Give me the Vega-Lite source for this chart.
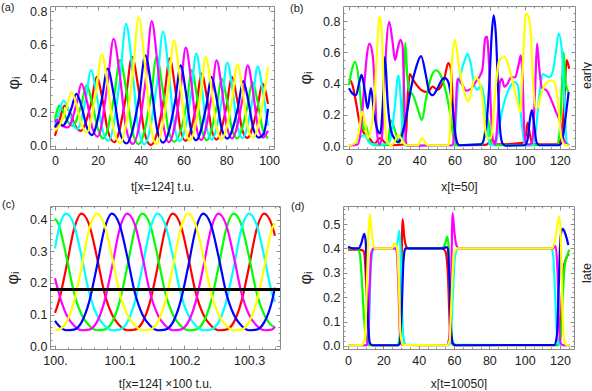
{
"$schema":"https://vega.github.io/schema/vega-lite/v6.json",
"padding":{"left":0,"top":1,"right":0,"bottom":0},
"background":"white",
"config":{
"font":"Liberation Sans",
"view":{"stroke":"#8c8c8c","strokeWidth":1},
"axis":{"domain":false,"grid":false,"tickColor":"#8c8c8c","tickWidth":1,"labelFont":"Liberation Sans","labelFontSize":12.5,"labelColor":"#222","labelPadding":7,"labelOverlap":false,"labelFlush":false,"titleFont":"Liberation Sans","titleFontWeight":"normal","titleColor":"#222","titleFontSize":12,"titleBaseline":"middle"},
"line":{"strokeWidth":2.2,"interpolate":"monotone"},
"title":{"anchor":"start","frame":"group","fontSize":11,"fontWeight":"normal","font":"Liberation Sans","color":"#222","baseline":"bottom"}
},
"datasets":{
"a":[
{"c":"red","x":0,"y":0.06},{"c":"red","x":2.2,"y":0.155},{"c":"red","x":4.5,"y":0.24},{"c":"red","x":7,"y":0.2},{"c":"red","x":9.5,"y":0.12},{"c":"red","x":12,"y":0.09},{"c":"red","x":16.9,"y":0.254},{"c":"red","x":19.5,"y":0.41},{"c":"red","x":22.1,"y":0.284},{"c":"red","x":24.7,"y":0.09},{"c":"red","x":27.7,"y":0.022},{"c":"red","x":33.15,"y":0.293},{"c":"red","x":36,"y":0.53},{"c":"red","x":38.9,"y":0.348},{"c":"red","x":41.7,"y":0.088},{"c":"red","x":44.8,"y":0.005},{"c":"red","x":51,"y":0.288},{"c":"red","x":53.6,"y":0.52},{"c":"red","x":56.1,"y":0.347},{"c":"red","x":58.6,"y":0.1},{"c":"red","x":61,"y":0.03},{"c":"red","x":66.1,"y":0.246},{"c":"red","x":68.5,"y":0.43},{"c":"red","x":70.9,"y":0.292},{"c":"red","x":73.2,"y":0.095},{"c":"red","x":75.5,"y":0.038},{"c":"red","x":80.2,"y":0.24},{"c":"red","x":82.6,"y":0.41},{"c":"red","x":85,"y":0.282},{"c":"red","x":87.4,"y":0.1},{"c":"red","x":89.8,"y":0.048},{"c":"red","x":94.5,"y":0.223},{"c":"red","x":96.9,"y":0.37},{"c":"red","x":99.5,"y":0.25},
{"c":"green","x":0,"y":0.15},{"c":"green","x":1,"y":0.21},{"c":"green","x":2,"y":0.24},{"c":"green","x":4.1,"y":0.2},{"c":"green","x":6.2,"y":0.14},{"c":"green","x":8.4,"y":0.12},{"c":"green","x":12.2,"y":0.24},{"c":"green","x":14.8,"y":0.36},{"c":"green","x":17.4,"y":0.255},{"c":"green","x":20,"y":0.105},{"c":"green","x":22.6,"y":0.045},{"c":"green","x":27.55,"y":0.287},{"c":"green","x":30.4,"y":0.51},{"c":"green","x":33.25,"y":0.337},{"c":"green","x":36.1,"y":0.09},{"c":"green","x":39,"y":0.01},{"c":"green","x":44.8,"y":0.29},{"c":"green","x":47.5,"y":0.53},{"c":"green","x":50.2,"y":0.35},{"c":"green","x":53,"y":0.097},{"c":"green","x":55.7,"y":0.025},{"c":"green","x":61.6,"y":0.257},{"c":"green","x":63.9,"y":0.45},{"c":"green","x":66.2,"y":0.303},{"c":"green","x":68.6,"y":0.097},{"c":"green","x":70.9,"y":0.035},{"c":"green","x":75.5,"y":0.234},{"c":"green","x":77.9,"y":0.4},{"c":"green","x":80.3,"y":0.274},{"c":"green","x":82.7,"y":0.098},{"c":"green","x":85,"y":0.045},{"c":"green","x":89.8,"y":0.228},{"c":"green","x":92.2,"y":0.38},{"c":"green","x":94.6,"y":0.265},{"c":"green","x":97,"y":0.1},{"c":"green","x":99.5,"y":0.045},
{"c":"cyan","x":0,"y":0.12},{"c":"cyan","x":2,"y":0.2},{"c":"cyan","x":4,"y":0.27},{"c":"cyan","x":6.2,"y":0.22},{"c":"cyan","x":8.4,"y":0.135},{"c":"cyan","x":10.4,"y":0.1},{"c":"cyan","x":14.4,"y":0.28},{"c":"cyan","x":16.8,"y":0.45},{"c":"cyan","x":19.4,"y":0.31},{"c":"cyan","x":22,"y":0.106},{"c":"cyan","x":25,"y":0.03},{"c":"cyan","x":30.4,"y":0.4},{"c":"cyan","x":33.2,"y":0.726},{"c":"cyan","x":36,"y":0.477},{"c":"cyan","x":38.8,"y":0.117},{"c":"cyan","x":41.8,"y":0.01},{"c":"cyan","x":47.7,"y":0.373},{"c":"cyan","x":50.5,"y":0.68},{"c":"cyan","x":53.1,"y":0.449},{"c":"cyan","x":55.7,"y":0.123},{"c":"cyan","x":58.3,"y":0.028},{"c":"cyan","x":63.6,"y":0.31},{"c":"cyan","x":66,"y":0.548},{"c":"cyan","x":68.4,"y":0.368},{"c":"cyan","x":70.8,"y":0.112},{"c":"cyan","x":73.2,"y":0.038},{"c":"cyan","x":78.1,"y":0.286},{"c":"cyan","x":80.5,"y":0.495},{"c":"cyan","x":82.9,"y":0.337},{"c":"cyan","x":85.3,"y":0.113},{"c":"cyan","x":87.6,"y":0.047},{"c":"cyan","x":92.3,"y":0.278},{"c":"cyan","x":94.7,"y":0.473},{"c":"cyan","x":97.1,"y":0.325},{"c":"cyan","x":99.5,"y":0.12},
{"c":"magenta","x":0,"y":0.14},{"c":"magenta","x":1,"y":0.155},{"c":"magenta","x":3.5,"y":0.12},{"c":"magenta","x":6,"y":0.11},{"c":"magenta","x":10.1,"y":0.25},{"c":"magenta","x":12.4,"y":0.37},{"c":"magenta","x":14.9,"y":0.268},{"c":"magenta","x":17.4,"y":0.11},{"c":"magenta","x":20,"y":0.055},{"c":"magenta","x":24.5,"y":0.36},{"c":"magenta","x":27.4,"y":0.637},{"c":"magenta","x":30.3,"y":0.42},{"c":"magenta","x":33.2,"y":0.108},{"c":"magenta","x":36.3,"y":0.012},{"c":"magenta","x":42.5,"y":0.405},{"c":"magenta","x":45.2,"y":0.742},{"c":"magenta","x":47.9,"y":0.487},{"c":"magenta","x":50.6,"y":0.128},{"c":"magenta","x":53.2,"y":0.022},{"c":"magenta","x":58.6,"y":0.328},{"c":"magenta","x":61.1,"y":0.584},{"c":"magenta","x":63.6,"y":0.39},{"c":"magenta","x":66,"y":0.116},{"c":"magenta","x":68.3,"y":0.035},{"c":"magenta","x":73.1,"y":0.292},{"c":"magenta","x":75.5,"y":0.508},{"c":"magenta","x":77.9,"y":0.344},{"c":"magenta","x":80.3,"y":0.114},{"c":"magenta","x":82.7,"y":0.045},{"c":"magenta","x":87.6,"y":0.28},{"c":"magenta","x":90,"y":0.479},{"c":"magenta","x":92.4,"y":0.33},{"c":"magenta","x":94.8,"y":0.114},{"c":"magenta","x":97.2,"y":0.05},{"c":"magenta","x":99.5,"y":0.09},
{"c":"blue","x":0,"y":0.11},{"c":"blue","x":1.5,"y":0.14},{"c":"blue","x":3.5,"y":0.12},{"c":"blue","x":7.7,"y":0.223},{"c":"blue","x":10,"y":0.31},{"c":"blue","x":12.4,"y":0.237},{"c":"blue","x":14.8,"y":0.115},{"c":"blue","x":17.3,"y":0.065},{"c":"blue","x":21.8,"y":0.27},{"c":"blue","x":24.6,"y":0.46},{"c":"blue","x":27.4,"y":0.309},{"c":"blue","x":30.2,"y":0.086},{"c":"blue","x":33.4,"y":0.015},{"c":"blue","x":39.4,"y":0.295},{"c":"blue","x":42.2,"y":0.538},{"c":"blue","x":45,"y":0.353},{"c":"blue","x":47.8,"y":0.092},{"c":"blue","x":50.5,"y":0.02},{"c":"blue","x":56.2,"y":0.27},{"c":"blue","x":58.7,"y":0.479},{"c":"blue","x":61.1,"y":0.322},{"c":"blue","x":63.5,"y":0.1},{"c":"blue","x":65.9,"y":0.034},{"c":"blue","x":70.7,"y":0.238},{"c":"blue","x":73.1,"y":0.41},{"c":"blue","x":75.5,"y":0.28},{"c":"blue","x":78,"y":0.097},{"c":"blue","x":80.5,"y":0.044},{"c":"blue","x":85.5,"y":0.23},{"c":"blue","x":87.9,"y":0.386},{"c":"blue","x":90.3,"y":0.268},{"c":"blue","x":92.7,"y":0.1},{"c":"blue","x":95.1,"y":0.05},{"c":"blue","x":97.5,"y":0.073},{"c":"blue","x":99.5,"y":0.22},
{"c":"yellow","x":0,"y":0.09},{"c":"yellow","x":2.5,"y":0.13},{"c":"yellow","x":5.5,"y":0.23},{"c":"yellow","x":7.7,"y":0.32},{"c":"yellow","x":10,"y":0.247},{"c":"yellow","x":12.3,"y":0.133},{"c":"yellow","x":14.8,"y":0.08},{"c":"yellow","x":19.2,"y":0.322},{"c":"yellow","x":21.9,"y":0.545},{"c":"yellow","x":24.6,"y":0.368},{"c":"yellow","x":27.3,"y":0.106},{"c":"yellow","x":30.5,"y":0.018},{"c":"yellow","x":36.3,"y":0.42},{"c":"yellow","x":39.1,"y":0.766},{"c":"yellow","x":41.9,"y":0.5},{"c":"yellow","x":44.7,"y":0.123},{"c":"yellow","x":47.3,"y":0.012},{"c":"yellow","x":53,"y":0.348},{"c":"yellow","x":55.6,"y":0.627},{"c":"yellow","x":58.2,"y":0.418},{"c":"yellow","x":60.7,"y":0.12},{"c":"yellow","x":63,"y":0.032},{"c":"yellow","x":68,"y":0.3},{"c":"yellow","x":70.4,"y":0.528},{"c":"yellow","x":72.9,"y":0.356},{"c":"yellow","x":75.4,"y":0.114},{"c":"yellow","x":77.8,"y":0.04},{"c":"yellow","x":82.8,"y":0.283},{"c":"yellow","x":85.2,"y":0.485},{"c":"yellow","x":87.6,"y":0.332},{"c":"yellow","x":90,"y":0.114},{"c":"yellow","x":92.4,"y":0.05},{"c":"yellow","x":97.3,"y":0.277},{"c":"yellow","x":99.5,"y":0.468}
],
"b":[
{"c":"red","x":0,"y":0.43},{"c":"red","x":2,"y":0.39},{"c":"red","x":4,"y":0.28},{"c":"red","x":6,"y":0.15},{"c":"red","x":8.7,"y":0.08},{"c":"red","x":11.6,"y":0.05},{"c":"red","x":14.4,"y":0.015},{"c":"red","x":17.8,"y":0.05},{"c":"red","x":21,"y":0.015},{"c":"red","x":24,"y":0.005},{"c":"red","x":31.5,"y":0.01},{"c":"red","x":32.6,"y":0.1},{"c":"red","x":33.4,"y":0.3},{"c":"red","x":34.5,"y":0.46},{"c":"red","x":37.2,"y":0.41},{"c":"red","x":41,"y":0.36},{"c":"red","x":44.7,"y":0.345},{"c":"red","x":47.6,"y":0.38},{"c":"red","x":50.4,"y":0.36},{"c":"red","x":54.2,"y":0.43},{"c":"red","x":56.5,"y":0.53},{"c":"red","x":58,"y":0.49},{"c":"red","x":59.3,"y":0.22},{"c":"red","x":60.5,"y":0.03},{"c":"red","x":62,"y":0.005},{"c":"red","x":78,"y":0.008},{"c":"red","x":81.7,"y":0.04},{"c":"red","x":84,"y":0.01},{"c":"red","x":98.8,"y":0.02},{"c":"red","x":100.7,"y":0.07},{"c":"red","x":101.6,"y":0.15},{"c":"red","x":103,"y":0.07},{"c":"red","x":104.5,"y":0.01},{"c":"red","x":117.7,"y":0.01},{"c":"red","x":120.6,"y":0.04},{"c":"red","x":122.5,"y":0.28},{"c":"red","x":123.8,"y":0.55},{"c":"red","x":125.3,"y":0.495},
{"c":"green","x":0,"y":0.39},{"c":"green","x":1.5,"y":0.48},{"c":"green","x":3.4,"y":0.538},{"c":"green","x":5.9,"y":0.39},{"c":"green","x":7.2,"y":0.22},{"c":"green","x":8.3,"y":0.1},{"c":"green","x":9.7,"y":0.13},{"c":"green","x":11.6,"y":0.025},{"c":"green","x":14.4,"y":0.005},{"c":"green","x":22,"y":0.005},{"c":"green","x":23.9,"y":0.165},{"c":"green","x":26.7,"y":0.08},{"c":"green","x":28.6,"y":0.02},{"c":"green","x":29.6,"y":0.06},{"c":"green","x":30.5,"y":0.15},{"c":"green","x":31.2,"y":0.4},{"c":"green","x":32,"y":0.66},{"c":"green","x":33.2,"y":0.45},{"c":"green","x":34.3,"y":0.35},{"c":"green","x":36.2,"y":0.33},{"c":"green","x":39.1,"y":0.24},{"c":"green","x":41.5,"y":0.165},{"c":"green","x":43.8,"y":0.3},{"c":"green","x":46.7,"y":0.44},{"c":"green","x":49.5,"y":0.485},{"c":"green","x":52.3,"y":0.45},{"c":"green","x":55.2,"y":0.345},{"c":"green","x":58,"y":0.175},{"c":"green","x":59.9,"y":0.025},{"c":"green","x":61,"y":0.005},{"c":"green","x":76,"y":0.01},{"c":"green","x":78.9,"y":0.18},{"c":"green","x":80.8,"y":0.03},{"c":"green","x":82,"y":0.005},{"c":"green","x":118.5,"y":0.008},{"c":"green","x":120,"y":0.11},{"c":"green","x":121.2,"y":0.39},{"c":"green","x":122.1,"y":0.6},{"c":"green","x":123.4,"y":0.39},{"c":"green","x":125,"y":0.345},
{"c":"cyan","x":0,"y":0.005},{"c":"cyan","x":2.9,"y":0.01},{"c":"cyan","x":5.9,"y":0.05},{"c":"cyan","x":8.7,"y":0.07},{"c":"cyan","x":11.6,"y":0.02},{"c":"cyan","x":14.4,"y":0.01},{"c":"cyan","x":20,"y":0.01},{"c":"cyan","x":22.9,"y":0.02},{"c":"cyan","x":25.8,"y":0.22},{"c":"cyan","x":28.1,"y":0.45},{"c":"cyan","x":29.6,"y":0.28},{"c":"cyan","x":30.5,"y":0.09},{"c":"cyan","x":31.5,"y":0.01},{"c":"cyan","x":33,"y":0.002},{"c":"cyan","x":59.3,"y":0.005},{"c":"cyan","x":60.2,"y":0.05},{"c":"cyan","x":61,"y":0.2},{"c":"cyan","x":62,"y":0.38},{"c":"cyan","x":63.7,"y":0.47},{"c":"cyan","x":66.2,"y":0.56},{"c":"cyan","x":67.5,"y":0.59},{"c":"cyan","x":69.4,"y":0.52},{"c":"cyan","x":71.3,"y":0.39},{"c":"cyan","x":73.2,"y":0.36},{"c":"cyan","x":75.1,"y":0.39},{"c":"cyan","x":77,"y":0.3},{"c":"cyan","x":78.9,"y":0.11},{"c":"cyan","x":80,"y":0.01},{"c":"cyan","x":83,"y":0.005},{"c":"cyan","x":84.6,"y":0.07},{"c":"cyan","x":87.4,"y":0.24},{"c":"cyan","x":91.2,"y":0.37},{"c":"cyan","x":94,"y":0.41},{"c":"cyan","x":96,"y":0.39},{"c":"cyan","x":97.8,"y":0.2},{"c":"cyan","x":99.7,"y":0.025},{"c":"cyan","x":101,"y":0.003},{"c":"cyan","x":104.5,"y":0.005},{"c":"cyan","x":106.4,"y":0.11},{"c":"cyan","x":108.3,"y":0.325},{"c":"cyan","x":110.2,"y":0.46},{"c":"cyan","x":112.1,"y":0.45},{"c":"cyan","x":114,"y":0.44},{"c":"cyan","x":115.8,"y":0.47},{"c":"cyan","x":117.7,"y":0.6},{"c":"cyan","x":119.3,"y":0.72},{"c":"cyan","x":121.2,"y":0.6},{"c":"cyan","x":122.5,"y":0.325},{"c":"cyan","x":123.8,"y":0.025},{"c":"cyan","x":125.3,"y":0.005},
{"c":"magenta","x":0,"y":0.002},{"c":"magenta","x":5,"y":0.01},{"c":"magenta","x":6.8,"y":0.11},{"c":"magenta","x":8.7,"y":0.39},{"c":"magenta","x":10.2,"y":0.58},{"c":"magenta","x":11.6,"y":0.655},{"c":"magenta","x":13.5,"y":0.58},{"c":"magenta","x":14.8,"y":0.345},{"c":"magenta","x":15.9,"y":0.09},{"c":"magenta","x":17.3,"y":0.01},{"c":"magenta","x":18.8,"y":0.06},{"c":"magenta","x":20.5,"y":0.495},{"c":"magenta","x":22.9,"y":0.794},{"c":"magenta","x":24.8,"y":0.666},{"c":"magenta","x":26.2,"y":0.55},{"c":"magenta","x":27.7,"y":0.62},{"c":"magenta","x":29.2,"y":0.68},{"c":"magenta","x":30.5,"y":0.64},{"c":"magenta","x":31.5,"y":0.28},{"c":"magenta","x":32.4,"y":0.02},{"c":"magenta","x":33.4,"y":0.002},{"c":"magenta","x":59,"y":0.005},{"c":"magenta","x":60.2,"y":0.12},{"c":"magenta","x":61.8,"y":0.43},{"c":"magenta","x":64.6,"y":0.39},{"c":"magenta","x":66.6,"y":0.355},{"c":"magenta","x":69.4,"y":0.366},{"c":"magenta","x":71.3,"y":0.4},{"c":"magenta","x":74.1,"y":0.44},{"c":"magenta","x":76,"y":0.495},{"c":"magenta","x":77.5,"y":0.69},{"c":"magenta","x":78.5,"y":0.7},{"c":"magenta","x":79.8,"y":0.495},{"c":"magenta","x":80.8,"y":0.22},{"c":"magenta","x":81.7,"y":0.05},{"c":"magenta","x":83.2,"y":0.01},{"c":"magenta","x":84.6,"y":0.175},{"c":"magenta","x":85.9,"y":0.41},{"c":"magenta","x":87,"y":0.43},{"c":"magenta","x":88.4,"y":0.38},{"c":"magenta","x":90.3,"y":0.4},{"c":"magenta","x":92.2,"y":0.44},{"c":"magenta","x":94.6,"y":0.44},{"c":"magenta","x":96.5,"y":0.52},{"c":"magenta","x":97.8,"y":0.58},{"c":"magenta","x":98.8,"y":0.43},{"c":"magenta","x":99.7,"y":0.11},{"c":"magenta","x":100.7,"y":0.015},{"c":"magenta","x":103,"y":0.01},{"c":"magenta","x":104.5,"y":0.05},{"c":"magenta","x":106,"y":0.39},{"c":"magenta","x":107,"y":0.655},{"c":"magenta","x":108.3,"y":0.495},{"c":"magenta","x":109.8,"y":0.37},{"c":"magenta","x":112.1,"y":0.36},{"c":"magenta","x":114.9,"y":0.3},{"c":"magenta","x":117.7,"y":0.22},{"c":"magenta","x":120,"y":0.154},{"c":"magenta","x":121.5,"y":0.07},{"c":"magenta","x":123.4,"y":0.015},{"c":"magenta","x":125.3,"y":0.005},
{"c":"blue","x":0,"y":0.37},{"c":"blue","x":2.1,"y":0.335},{"c":"blue","x":4,"y":0.325},{"c":"blue","x":5.9,"y":0.41},{"c":"blue","x":7.2,"y":0.455},{"c":"blue","x":9.1,"y":0.345},{"c":"blue","x":10.6,"y":0.24},{"c":"blue","x":12.5,"y":0.37},{"c":"blue","x":14.4,"y":0.2},{"c":"blue","x":16.3,"y":0.1},{"c":"blue","x":17.8,"y":0.08},{"c":"blue","x":19.3,"y":0.28},{"c":"blue","x":20.5,"y":0.57},{"c":"blue","x":22,"y":0.28},{"c":"blue","x":23.9,"y":0.1},{"c":"blue","x":25.8,"y":0.05},{"c":"blue","x":27.7,"y":0.025},{"c":"blue","x":29.6,"y":0.05},{"c":"blue","x":31.5,"y":0.13},{"c":"blue","x":33.4,"y":0.24},{"c":"blue","x":35.3,"y":0.37},{"c":"blue","x":38.1,"y":0.5},{"c":"blue","x":41,"y":0.575},{"c":"blue","x":43.8,"y":0.45},{"c":"blue","x":45.7,"y":0.345},{"c":"blue","x":47.6,"y":0.325},{"c":"blue","x":50.4,"y":0.37},{"c":"blue","x":53.3,"y":0.43},{"c":"blue","x":54.6,"y":0.435},{"c":"blue","x":56.5,"y":0.41},{"c":"blue","x":59,"y":0.24},{"c":"blue","x":60.9,"y":0.05},{"c":"blue","x":62.8,"y":0.005},{"c":"blue","x":75.1,"y":0.01},{"c":"blue","x":77.9,"y":0.11},{"c":"blue","x":79.8,"y":0.39},{"c":"blue","x":81.2,"y":0.71},{"c":"blue","x":82.3,"y":0.836},{"c":"blue","x":83.6,"y":0.71},{"c":"blue","x":85,"y":0.325},{"c":"blue","x":86.1,"y":0.09},{"c":"blue","x":87.4,"y":0.015},{"c":"blue","x":89,"y":0.003},{"c":"blue","x":100,"y":0.005},{"c":"blue","x":101.6,"y":0.04},{"c":"blue","x":103,"y":0.175},{"c":"blue","x":104.1,"y":0.23},{"c":"blue","x":105.4,"y":0.13},{"c":"blue","x":106.7,"y":0.025},{"c":"blue","x":108.3,"y":0.005},{"c":"blue","x":119.5,"y":0.005},{"c":"blue","x":120.6,"y":0.015},{"c":"blue","x":121.9,"y":0.07},{"c":"blue","x":123.4,"y":0.2},{"c":"blue","x":125,"y":0.345},
{"c":"yellow","x":0,"y":0.002},{"c":"yellow","x":4,"y":0.025},{"c":"yellow","x":5.9,"y":0.11},{"c":"yellow","x":7.4,"y":0.22},{"c":"yellow","x":9.1,"y":0.154},{"c":"yellow","x":10.6,"y":0.05},{"c":"yellow","x":12.5,"y":0.11},{"c":"yellow","x":14.4,"y":0.28},{"c":"yellow","x":15.9,"y":0.6},{"c":"yellow","x":17.3,"y":0.826},{"c":"yellow","x":18.6,"y":0.75},{"c":"yellow","x":19.7,"y":0.39},{"c":"yellow","x":20.7,"y":0.11},{"c":"yellow","x":22,"y":0.025},{"c":"yellow","x":23.9,"y":0.005},{"c":"yellow","x":25.8,"y":0.025},{"c":"yellow","x":28.1,"y":0.07},{"c":"yellow","x":29.6,"y":0.05},{"c":"yellow","x":31.5,"y":0.015},{"c":"yellow","x":33.4,"y":0.005},{"c":"yellow","x":39.1,"y":0.005},{"c":"yellow","x":41.5,"y":0.05},{"c":"yellow","x":43.8,"y":0.015},{"c":"yellow","x":45,"y":0.005},{"c":"yellow","x":56.5,"y":0.005},{"c":"yellow","x":57.3,"y":0.07},{"c":"yellow","x":58.4,"y":0.5},{"c":"yellow","x":60.2,"y":0.68},{"c":"yellow","x":62.8,"y":0.495},{"c":"yellow","x":64.6,"y":0.39},{"c":"yellow","x":66.6,"y":0.31},{"c":"yellow","x":68.1,"y":0.286},{"c":"yellow","x":70.3,"y":0.39},{"c":"yellow","x":71.9,"y":0.44},{"c":"yellow","x":74.1,"y":0.41},{"c":"yellow","x":76,"y":0.3},{"c":"yellow","x":77.5,"y":0.11},{"c":"yellow","x":78.9,"y":0.05},{"c":"yellow","x":80.8,"y":0.05},{"c":"yellow","x":82.1,"y":0.175},{"c":"yellow","x":83.6,"y":0.39},{"c":"yellow","x":85.5,"y":0.55},{"c":"yellow","x":88.4,"y":0.57},{"c":"yellow","x":91.2,"y":0.495},{"c":"yellow","x":94,"y":0.37},{"c":"yellow","x":95.9,"y":0.28},{"c":"yellow","x":97.4,"y":0.22},{"c":"yellow","x":98.8,"y":0.5},{"c":"yellow","x":100.7,"y":0.847},{"c":"yellow","x":102.2,"y":0.826},{"c":"yellow","x":103.5,"y":0.71},{"c":"yellow","x":104.8,"y":0.4},{"c":"yellow","x":106.3,"y":0.24},{"c":"yellow","x":107.5,"y":0.25},{"c":"yellow","x":109.2,"y":0.325},{"c":"yellow","x":112.1,"y":0.4},{"c":"yellow","x":114.9,"y":0.42},{"c":"yellow","x":116.8,"y":0.41},{"c":"yellow","x":118.7,"y":0.3},{"c":"yellow","x":120.6,"y":0.07},{"c":"yellow","x":122.5,"y":0.01},{"c":"yellow","x":125.3,"y":0.003}
],
"c":[
{"c":"red","x":100,"y":0.105},{"c":"red","x":100.0057,"y":0.14},{"c":"red","x":100.0175,"y":0.25},{"c":"red","x":100.0293,"y":0.37},{"c":"red","x":100.041,"y":0.42},{"c":"red","x":100.0528,"y":0.385},{"c":"red","x":100.0645,"y":0.285},{"c":"red","x":100.0763,"y":0.17},{"c":"red","x":100.0881,"y":0.1},{"c":"red","x":100.0998,"y":0.065},{"c":"red","x":100.1116,"y":0.05},{"c":"red","x":100.1234,"y":0.052},{"c":"red","x":100.1351,"y":0.075},{"c":"red","x":100.1469,"y":0.14},{"c":"red","x":100.1586,"y":0.25},{"c":"red","x":100.1704,"y":0.37},{"c":"red","x":100.1822,"y":0.42},{"c":"red","x":100.1939,"y":0.385},{"c":"red","x":100.2057,"y":0.285},{"c":"red","x":100.2175,"y":0.17},{"c":"red","x":100.2292,"y":0.1},{"c":"red","x":100.241,"y":0.065},{"c":"red","x":100.2527,"y":0.05},{"c":"red","x":100.2645,"y":0.052},{"c":"red","x":100.2763,"y":0.075},{"c":"red","x":100.288,"y":0.14},{"c":"red","x":100.2998,"y":0.25},{"c":"red","x":100.3116,"y":0.37},{"c":"red","x":100.3233,"y":0.42},{"c":"red","x":100.3351,"y":0.385},{"c":"red","x":100.34,"y":0.35},
{"c":"green","x":100,"y":0.405},{"c":"green","x":100.0057,"y":0.385},{"c":"green","x":100.0175,"y":0.285},{"c":"green","x":100.0293,"y":0.17},{"c":"green","x":100.041,"y":0.1},{"c":"green","x":100.0528,"y":0.065},{"c":"green","x":100.0645,"y":0.05},{"c":"green","x":100.0763,"y":0.052},{"c":"green","x":100.0881,"y":0.075},{"c":"green","x":100.0998,"y":0.14},{"c":"green","x":100.1116,"y":0.25},{"c":"green","x":100.1234,"y":0.37},{"c":"green","x":100.1351,"y":0.42},{"c":"green","x":100.1469,"y":0.385},{"c":"green","x":100.1586,"y":0.285},{"c":"green","x":100.1704,"y":0.17},{"c":"green","x":100.1822,"y":0.1},{"c":"green","x":100.1939,"y":0.065},{"c":"green","x":100.2057,"y":0.05},{"c":"green","x":100.2175,"y":0.052},{"c":"green","x":100.2292,"y":0.075},{"c":"green","x":100.241,"y":0.14},{"c":"green","x":100.2527,"y":0.25},{"c":"green","x":100.2645,"y":0.37},{"c":"green","x":100.2763,"y":0.42},{"c":"green","x":100.288,"y":0.385},{"c":"green","x":100.2998,"y":0.285},{"c":"green","x":100.3116,"y":0.17},{"c":"green","x":100.3233,"y":0.1},{"c":"green","x":100.3351,"y":0.065},{"c":"green","x":100.34,"y":0.059},
{"c":"cyan","x":100,"y":0.31},{"c":"cyan","x":100.0057,"y":0.37},{"c":"cyan","x":100.0175,"y":0.42},{"c":"cyan","x":100.0293,"y":0.385},{"c":"cyan","x":100.041,"y":0.285},{"c":"cyan","x":100.0528,"y":0.17},{"c":"cyan","x":100.0645,"y":0.1},{"c":"cyan","x":100.0763,"y":0.065},{"c":"cyan","x":100.0881,"y":0.05},{"c":"cyan","x":100.0998,"y":0.052},{"c":"cyan","x":100.1116,"y":0.075},{"c":"cyan","x":100.1234,"y":0.14},{"c":"cyan","x":100.1351,"y":0.25},{"c":"cyan","x":100.1469,"y":0.37},{"c":"cyan","x":100.1586,"y":0.42},{"c":"cyan","x":100.1704,"y":0.385},{"c":"cyan","x":100.1822,"y":0.285},{"c":"cyan","x":100.1939,"y":0.17},{"c":"cyan","x":100.2057,"y":0.1},{"c":"cyan","x":100.2175,"y":0.065},{"c":"cyan","x":100.2292,"y":0.05},{"c":"cyan","x":100.241,"y":0.052},{"c":"cyan","x":100.2527,"y":0.075},{"c":"cyan","x":100.2645,"y":0.14},{"c":"cyan","x":100.2763,"y":0.25},{"c":"cyan","x":100.288,"y":0.37},{"c":"cyan","x":100.2998,"y":0.42},{"c":"cyan","x":100.3116,"y":0.385},{"c":"cyan","x":100.3233,"y":0.285},{"c":"cyan","x":100.3351,"y":0.17},{"c":"cyan","x":100.34,"y":0.14},
{"c":"magenta","x":100,"y":0.215},{"c":"magenta","x":100.0057,"y":0.17},{"c":"magenta","x":100.0175,"y":0.1},{"c":"magenta","x":100.0293,"y":0.065},{"c":"magenta","x":100.041,"y":0.05},{"c":"magenta","x":100.0528,"y":0.052},{"c":"magenta","x":100.0645,"y":0.075},{"c":"magenta","x":100.0763,"y":0.14},{"c":"magenta","x":100.0881,"y":0.25},{"c":"magenta","x":100.0998,"y":0.37},{"c":"magenta","x":100.1116,"y":0.42},{"c":"magenta","x":100.1234,"y":0.385},{"c":"magenta","x":100.1351,"y":0.285},{"c":"magenta","x":100.1469,"y":0.17},{"c":"magenta","x":100.1586,"y":0.1},{"c":"magenta","x":100.1704,"y":0.065},{"c":"magenta","x":100.1822,"y":0.05},{"c":"magenta","x":100.1939,"y":0.052},{"c":"magenta","x":100.2057,"y":0.075},{"c":"magenta","x":100.2175,"y":0.14},{"c":"magenta","x":100.2292,"y":0.25},{"c":"magenta","x":100.241,"y":0.37},{"c":"magenta","x":100.2527,"y":0.42},{"c":"magenta","x":100.2645,"y":0.385},{"c":"magenta","x":100.2763,"y":0.285},{"c":"magenta","x":100.288,"y":0.17},{"c":"magenta","x":100.2998,"y":0.1},{"c":"magenta","x":100.3116,"y":0.065},{"c":"magenta","x":100.3233,"y":0.05},{"c":"magenta","x":100.3351,"y":0.052},{"c":"magenta","x":100.34,"y":0.061},
{"c":"blue","x":100,"y":0.08},{"c":"blue","x":100.0057,"y":0.065},{"c":"blue","x":100.0175,"y":0.05},{"c":"blue","x":100.0293,"y":0.052},{"c":"blue","x":100.041,"y":0.075},{"c":"blue","x":100.0528,"y":0.14},{"c":"blue","x":100.0645,"y":0.25},{"c":"blue","x":100.0763,"y":0.37},{"c":"blue","x":100.0881,"y":0.42},{"c":"blue","x":100.0998,"y":0.385},{"c":"blue","x":100.1116,"y":0.285},{"c":"blue","x":100.1234,"y":0.17},{"c":"blue","x":100.1351,"y":0.1},{"c":"blue","x":100.1469,"y":0.065},{"c":"blue","x":100.1586,"y":0.05},{"c":"blue","x":100.1704,"y":0.052},{"c":"blue","x":100.1822,"y":0.075},{"c":"blue","x":100.1939,"y":0.14},{"c":"blue","x":100.2057,"y":0.25},{"c":"blue","x":100.2175,"y":0.37},{"c":"blue","x":100.2292,"y":0.42},{"c":"blue","x":100.241,"y":0.385},{"c":"blue","x":100.2527,"y":0.285},{"c":"blue","x":100.2645,"y":0.17},{"c":"blue","x":100.2763,"y":0.1},{"c":"blue","x":100.288,"y":0.065},{"c":"blue","x":100.2998,"y":0.05},{"c":"blue","x":100.3116,"y":0.052},{"c":"blue","x":100.3233,"y":0.075},{"c":"blue","x":100.3351,"y":0.14},{"c":"blue","x":100.34,"y":0.185},
{"c":"yellow","x":100,"y":0.05},{"c":"yellow","x":100.0057,"y":0.052},{"c":"yellow","x":100.0175,"y":0.075},{"c":"yellow","x":100.0293,"y":0.14},{"c":"yellow","x":100.041,"y":0.25},{"c":"yellow","x":100.0528,"y":0.37},{"c":"yellow","x":100.0645,"y":0.42},{"c":"yellow","x":100.0763,"y":0.385},{"c":"yellow","x":100.0881,"y":0.285},{"c":"yellow","x":100.0998,"y":0.17},{"c":"yellow","x":100.1116,"y":0.1},{"c":"yellow","x":100.1234,"y":0.065},{"c":"yellow","x":100.1351,"y":0.05},{"c":"yellow","x":100.1469,"y":0.052},{"c":"yellow","x":100.1586,"y":0.075},{"c":"yellow","x":100.1704,"y":0.14},{"c":"yellow","x":100.1822,"y":0.25},{"c":"yellow","x":100.1939,"y":0.37},{"c":"yellow","x":100.2057,"y":0.42},{"c":"yellow","x":100.2175,"y":0.385},{"c":"yellow","x":100.2292,"y":0.285},{"c":"yellow","x":100.241,"y":0.17},{"c":"yellow","x":100.2527,"y":0.1},{"c":"yellow","x":100.2645,"y":0.065},{"c":"yellow","x":100.2763,"y":0.05},{"c":"yellow","x":100.288,"y":0.052},{"c":"yellow","x":100.2998,"y":0.075},{"c":"yellow","x":100.3116,"y":0.14},{"c":"yellow","x":100.3233,"y":0.25},{"c":"yellow","x":100.3351,"y":0.37},{"c":"yellow","x":100.34,"y":0.39}
],
"d":[
{"c":"red","x":0,"y":0.395},{"c":"red","x":6,"y":0.395},{"c":"red","x":8.7,"y":0.39},{"c":"red","x":9.5,"y":0.36},{"c":"red","x":10.6,"y":0.2},{"c":"red","x":11.5,"y":0.05},{"c":"red","x":12.5,"y":0.008},{"c":"red","x":14,"y":0.003},{"c":"red","x":28.5,"y":0.003},{"c":"red","x":29.4,"y":0.03},{"c":"red","x":30,"y":0.2},{"c":"red","x":30.9,"y":0.52},{"c":"red","x":31.8,"y":0.45},{"c":"red","x":33.2,"y":0.405},{"c":"red","x":34.5,"y":0.4},{"c":"red","x":53,"y":0.4},{"c":"red","x":55,"y":0.39},{"c":"red","x":56.5,"y":0.3},{"c":"red","x":57.5,"y":0.1},{"c":"red","x":58.5,"y":0.02},{"c":"red","x":60,"y":0.003},{"c":"red","x":118.5,"y":0.003},{"c":"red","x":120.2,"y":0.05},{"c":"red","x":121,"y":0.2},{"c":"red","x":122,"y":0.32},{"c":"red","x":123.5,"y":0.36},{"c":"red","x":125,"y":0.38},
{"c":"green","x":0,"y":0.4},{"c":"green","x":5.5,"y":0.4},{"c":"green","x":6.8,"y":0.37},{"c":"green","x":8,"y":0.25},{"c":"green","x":9.2,"y":0.1},{"c":"green","x":10.6,"y":0.02},{"c":"green","x":12,"y":0.003},{"c":"green","x":28,"y":0.003},{"c":"green","x":29.4,"y":0.05},{"c":"green","x":30.4,"y":0.25},{"c":"green","x":31.5,"y":0.38},{"c":"green","x":32.8,"y":0.4},{"c":"green","x":53,"y":0.4},{"c":"green","x":55,"y":0.42},{"c":"green","x":56.2,"y":0.448},{"c":"green","x":57,"y":0.4},{"c":"green","x":57.7,"y":0.2},{"c":"green","x":58.7,"y":0.04},{"c":"green","x":60,"y":0.005},{"c":"green","x":119,"y":0.003},{"c":"green","x":120.5,"y":0.04},{"c":"green","x":121.5,"y":0.2},{"c":"green","x":122.5,"y":0.32},{"c":"green","x":124,"y":0.37},{"c":"green","x":125.3,"y":0.395},
{"c":"cyan","x":0,"y":0.003},{"c":"cyan","x":11,"y":0.003},{"c":"cyan","x":11.8,"y":0.08},{"c":"cyan","x":12.8,"y":0.3},{"c":"cyan","x":14,"y":0.39},{"c":"cyan","x":15.5,"y":0.4},{"c":"cyan","x":27,"y":0.4},{"c":"cyan","x":28.1,"y":0.43},{"c":"cyan","x":29,"y":0.473},{"c":"cyan","x":29.7,"y":0.4},{"c":"cyan","x":30.4,"y":0.2},{"c":"cyan","x":31.3,"y":0.04},{"c":"cyan","x":32.5,"y":0.005},{"c":"cyan","x":57,"y":0.003},{"c":"cyan","x":58,"y":0.02},{"c":"cyan","x":59.3,"y":0.2},{"c":"cyan","x":60.6,"y":0.37},{"c":"cyan","x":62.4,"y":0.4},{"c":"cyan","x":114.8,"y":0.4},{"c":"cyan","x":116,"y":0.38},{"c":"cyan","x":117,"y":0.25},{"c":"cyan","x":118,"y":0.08},{"c":"cyan","x":119,"y":0.01},{"c":"cyan","x":120,"y":0.003},{"c":"cyan","x":125.3,"y":0.003},
{"c":"magenta","x":0,"y":0.003},{"c":"magenta","x":10.6,"y":0.003},{"c":"magenta","x":11.5,"y":0.05},{"c":"magenta","x":12.3,"y":0.25},{"c":"magenta","x":13.2,"y":0.38},{"c":"magenta","x":14.5,"y":0.4},{"c":"magenta","x":26.6,"y":0.4},{"c":"magenta","x":27.5,"y":0.39},{"c":"magenta","x":28.5,"y":0.25},{"c":"magenta","x":29.4,"y":0.05},{"c":"magenta","x":30.4,"y":0.005},{"c":"magenta","x":56,"y":0.003},{"c":"magenta","x":57.2,"y":0.03},{"c":"magenta","x":58.2,"y":0.2},{"c":"magenta","x":59.2,"y":0.545},{"c":"magenta","x":60.3,"y":0.46},{"c":"magenta","x":61.5,"y":0.41},{"c":"magenta","x":63,"y":0.4},{"c":"magenta","x":116,"y":0.4},{"c":"magenta","x":117.5,"y":0.41},{"c":"magenta","x":118.6,"y":0.3},{"c":"magenta","x":119.5,"y":0.08},{"c":"magenta","x":120.5,"y":0.01},{"c":"magenta","x":122,"y":0.003},{"c":"magenta","x":125.3,"y":0.003},
{"c":"blue","x":0,"y":0.407},{"c":"blue","x":3,"y":0.4},{"c":"blue","x":6,"y":0.4},{"c":"blue","x":7.5,"y":0.42},{"c":"blue","x":9.2,"y":0.46},{"c":"blue","x":10,"y":0.43},{"c":"blue","x":10.8,"y":0.25},{"c":"blue","x":11.5,"y":0.08},{"c":"blue","x":12.5,"y":0.01},{"c":"blue","x":14,"y":0.003},{"c":"blue","x":28,"y":0.003},{"c":"blue","x":29.3,"y":0.01},{"c":"blue","x":30.4,"y":0.15},{"c":"blue","x":31.4,"y":0.35},{"c":"blue","x":32.5,"y":0.4},{"c":"blue","x":54,"y":0.4},{"c":"blue","x":55.6,"y":0.405},{"c":"blue","x":56.5,"y":0.4},{"c":"blue","x":57.5,"y":0.25},{"c":"blue","x":58.4,"y":0.06},{"c":"blue","x":59.4,"y":0.01},{"c":"blue","x":61,"y":0.003},{"c":"blue","x":117,"y":0.005},{"c":"blue","x":118.3,"y":0.05},{"c":"blue","x":119.3,"y":0.25},{"c":"blue","x":120.3,"y":0.45},{"c":"blue","x":121.5,"y":0.48},{"c":"blue","x":123,"y":0.46},{"c":"blue","x":124.7,"y":0.414},
{"c":"yellow","x":0,"y":0.003},{"c":"yellow","x":8,"y":0.005},{"c":"yellow","x":9.5,"y":0.03},{"c":"yellow","x":10.5,"y":0.2},{"c":"yellow","x":11.5,"y":0.45},{"c":"yellow","x":12.4,"y":0.54},{"c":"yellow","x":13.5,"y":0.46},{"c":"yellow","x":15.3,"y":0.4},{"c":"yellow","x":24.7,"y":0.4},{"c":"yellow","x":26.6,"y":0.42},{"c":"yellow","x":27.8,"y":0.4},{"c":"yellow","x":28.8,"y":0.25},{"c":"yellow","x":29.7,"y":0.05},{"c":"yellow","x":31,"y":0.005},{"c":"yellow","x":56,"y":0.003},{"c":"yellow","x":57.5,"y":0.02},{"c":"yellow","x":58.6,"y":0.2},{"c":"yellow","x":60,"y":0.38},{"c":"yellow","x":62,"y":0.4},{"c":"yellow","x":115.3,"y":0.4},{"c":"yellow","x":117.1,"y":0.43},{"c":"yellow","x":119.6,"y":0.53},{"c":"yellow","x":120.4,"y":0.45},{"c":"yellow","x":121.2,"y":0.2},{"c":"yellow","x":122.2,"y":0.03},{"c":"yellow","x":123.5,"y":0.005},{"c":"yellow","x":125.3,"y":0.003}
]
},
"columns":2,
"spacing":{"row":5,"column":7},
"align":"each",
"concat":[
{"width":224,"height":143,"title":{"text":"(a)","offset":-8,"dx":-49},"data":{"name":"a"},
"layer":[
{"mark":{"type":"line"},"encoding":{
"x":{"field":"x","type":"quantitative","scale":{"domain":[-2.3,102.3],"nice":false,"zero":false},"axis":{"values":[0,5,10,15,20,25,30,35,40,45,50,55,60,65,70,75,80,85,90,95,100],"labelExpr":"datum.value % 20 == 0 ? datum.label : ''","tickSize":{"condition":{"test":"datum.value % 20 != 0","value":-2},"value":-4},"labelPadding":9,"title":"t[x=124]  t.u.","titleY":37}},
"y":{"field":"y","type":"quantitative","scale":{"domain":[-0.018,0.8315],"nice":false,"zero":false},"axis":{"values":[0,0.05,0.1,0.15,0.2,0.25,0.3,0.35,0.4,0.45,0.5,0.55,0.6,0.65,0.7,0.75,0.8],"labelExpr":"abs(datum.value*5 - round(datum.value*5)) < 0.01 ? format(datum.value, '.1f') : ''","tickSize":{"condition":{"test":"abs(datum.value*5 - round(datum.value*5)) > 0.01","value":-2},"value":-4},"title":"φᵢ","titleFontSize":16,"titleX":-37,"titleY":76.5}},
"color":{"field":"c","type":"nominal","sort":null,"scale":{"domain":["red","green","cyan","magenta","blue","yellow"],"range":["#ff0000","#00ff00","#00ffff","#ff00ff","#0000ff","#ffff00"]},"legend":null}}},
{"mark":{"type":"point","opacity":0},"encoding":{
"x":{"field":"x","type":"quantitative","axis":{"orient":"top","values":[0,5,10,15,20,25,30,35,40,45,50,55,60,65,70,75,80,85,90,95,100],"labels":false,"tickSize":{"condition":{"test":"datum.value % 20 != 0","value":-2},"value":-4},"title":null}},
"y":{"field":"y","type":"quantitative","axis":{"orient":"right","values":[0,0.05,0.1,0.15,0.2,0.25,0.3,0.35,0.4,0.45,0.5,0.55,0.6,0.65,0.7,0.75,0.8],"labels":false,"tickSize":{"condition":{"test":"abs(datum.value*5 - round(datum.value*5)) > 0.01","value":-2},"value":-4},"title":null}}}}
],
"resolve":{"axis":{"x":"independent","y":"independent"}}},
{"width":232,"height":143,"title":{"text":"(b)","offset":-8,"dx":-53},"data":{"name":"b"},
"layer":[
{"mark":{"type":"line"},"encoding":{
"x":{"field":"x","type":"quantitative","scale":{"domain":[-3.4,128.6],"nice":false,"zero":false},"axis":{"values":[0,5,10,15,20,25,30,35,40,45,50,55,60,65,70,75,80,85,90,95,100,105,110,115,120,125],"labelExpr":"datum.value % 20 == 0 ? datum.label : ''","tickSize":{"condition":{"test":"datum.value % 20 != 0","value":-2},"value":-4},"labelPadding":9,"title":"x[t=50]","titleY":37}},
"y":{"field":"y","type":"quantitative","scale":{"domain":[-0.019,0.896],"nice":false,"zero":false},"axis":{"values":[0,0.05,0.1,0.15,0.2,0.25,0.3,0.35,0.4,0.45,0.5,0.55,0.6,0.65,0.7,0.75,0.8,0.85],"labelExpr":"abs(datum.value*5 - round(datum.value*5)) < 0.01 ? format(datum.value, '.1f') : ''","tickSize":{"condition":{"test":"abs(datum.value*5 - round(datum.value*5)) > 0.01","value":-2},"value":-4},"title":"φᵢ","titleFontSize":16,"titleX":-38,"titleY":71.5}},
"color":{"field":"c","type":"nominal","sort":null,"scale":{"domain":["red","green","cyan","magenta","blue","yellow"],"range":["#ff0000","#00ff00","#00ffff","#ff00ff","#0000ff","#ffff00"]},"legend":null}}},
{"mark":{"type":"point","opacity":0},"encoding":{
"x":{"field":"x","type":"quantitative","axis":{"orient":"top","values":[0,5,10,15,20,25,30,35,40,45,50,55,60,65,70,75,80,85,90,95,100,105,110,115,120,125],"labels":false,"tickSize":{"condition":{"test":"datum.value % 20 != 0","value":-2},"value":-4},"title":null}},
"y":{"field":"y","type":"quantitative","axis":{"orient":"right","values":[0,0.05,0.1,0.15,0.2,0.25,0.3,0.35,0.4,0.45,0.5,0.55,0.6,0.65,0.7,0.75,0.8,0.85],"labels":false,"tickSize":{"condition":{"test":"abs(datum.value*5 - round(datum.value*5)) > 0.01","value":-2},"value":-4},"title":"early","titleAngle":270,"titleX":11,"titleY":69,"titleFontSize":12.5}}}}
],
"resolve":{"axis":{"x":"independent","y":"independent"}}},
{"width":230,"height":143,"title":{"text":"(c)","offset":-9,"dx":-48},"data":{"name":"c"},
"layer":[
{"mark":{"type":"line"},"encoding":{
"x":{"field":"x","type":"quantitative","scale":{"domain":[99.9923,100.3478],"nice":false,"zero":false},"axis":{"values":[100,100.02,100.04,100.06,100.08,100.1,100.12,100.14,100.16,100.18,100.2,100.22,100.24,100.26,100.28,100.3,100.32,100.34],"labelExpr":"abs(datum.value*10 - round(datum.value*10)) < 0.001 ? (abs(datum.value - 100) < 0.001 ? '100.' : format(datum.value, '.1f')) : ''","tickSize":{"condition":{"test":"abs(datum.value*10 - round(datum.value*10)) > 0.001","value":-2},"value":-4},"labelPadding":9,"title":"t[x=124] ×100 t.u.","titleY":34}},
"y":{"field":"y","type":"quantitative","scale":{"domain":[-0.0095,0.4444],"nice":false,"zero":false},"axis":{"values":[0,0.02,0.04,0.06,0.08,0.1,0.12,0.14,0.16,0.18,0.2,0.22,0.24,0.26,0.28,0.3,0.32,0.34,0.36,0.38,0.4,0.42,0.44],"labelExpr":"abs(datum.value*10 - round(datum.value*10)) < 0.001 ? format(datum.value, '.1f') : ''","tickSize":{"condition":{"test":"abs(datum.value*10 - round(datum.value*10)) > 0.001","value":-2},"value":-4},"title":"φᵢ","titleFontSize":16,"titleX":-38,"titleY":71.5}},
"color":{"field":"c","type":"nominal","sort":null,"scale":{"domain":["red","green","cyan","magenta","blue","yellow"],"range":["#ff0000","#00ff00","#00ffff","#ff00ff","#0000ff","#ffff00"]},"legend":null}}},
{"mark":{"type":"point","opacity":0},"encoding":{
"x":{"field":"x","type":"quantitative","axis":{"orient":"top","values":[100,100.02,100.04,100.06,100.08,100.1,100.12,100.14,100.16,100.18,100.2,100.22,100.24,100.26,100.28,100.3,100.32,100.34],"labels":false,"tickSize":{"condition":{"test":"abs(datum.value*10 - round(datum.value*10)) > 0.001","value":-2},"value":-4},"title":null}},
"y":{"field":"y","type":"quantitative","axis":{"orient":"right","values":[0,0.02,0.04,0.06,0.08,0.1,0.12,0.14,0.16,0.18,0.2,0.22,0.24,0.26,0.28,0.3,0.32,0.34,0.36,0.38,0.4,0.42,0.44],"labels":false,"tickSize":{"condition":{"test":"abs(datum.value*10 - round(datum.value*10)) > 0.001","value":-2},"value":-4},"title":null}}}},
{"mark":{"type":"rule","color":"black","strokeWidth":2},"encoding":{"y":{"datum":0.18,"axis":null}}}
],
"resolve":{"axis":{"x":"independent","y":"independent"}}},
{"width":231,"height":143,"title":{"text":"(d)","offset":-9,"dx":-52},"data":{"name":"d"},
"layer":[
{"mark":{"type":"line"},"encoding":{
"x":{"field":"x","type":"quantitative","scale":{"domain":[-2.83,127.9],"nice":false,"zero":false},"axis":{"values":[0,5,10,15,20,25,30,35,40,45,50,55,60,65,70,75,80,85,90,95,100,105,110,115,120,125],"labelExpr":"datum.value % 20 == 0 ? datum.label : ''","tickSize":{"condition":{"test":"datum.value % 20 != 0","value":-2},"value":-4},"labelPadding":9,"title":"x[t=10050]","titleY":34}},
"y":{"field":"y","type":"quantitative","scale":{"domain":[-0.0123,0.5738],"nice":false,"zero":false},"axis":{"values":[0,0.02,0.04,0.06,0.08,0.1,0.12,0.14,0.16,0.18,0.2,0.22,0.24,0.26,0.28,0.3,0.32,0.34,0.36,0.38,0.4,0.42,0.44,0.46,0.48,0.5,0.52,0.54,0.56],"labelExpr":"abs(datum.value*10 - round(datum.value*10)) < 0.001 ? format(datum.value, '.1f') : ''","tickSize":{"condition":{"test":"abs(datum.value*10 - round(datum.value*10)) > 0.001","value":-2},"value":-4},"title":"φᵢ","titleFontSize":16,"titleX":-38,"titleY":71.5}},
"color":{"field":"c","type":"nominal","sort":null,"scale":{"domain":["red","green","cyan","magenta","blue","yellow"],"range":["#ff0000","#00ff00","#00ffff","#ff00ff","#0000ff","#ffff00"]},"legend":null}}},
{"mark":{"type":"point","opacity":0},"encoding":{
"x":{"field":"x","type":"quantitative","axis":{"orient":"top","values":[0,5,10,15,20,25,30,35,40,45,50,55,60,65,70,75,80,85,90,95,100,105,110,115,120,125],"labels":false,"tickSize":{"condition":{"test":"datum.value % 20 != 0","value":-2},"value":-4},"title":null}},
"y":{"field":"y","type":"quantitative","axis":{"orient":"right","values":[0,0.02,0.04,0.06,0.08,0.1,0.12,0.14,0.16,0.18,0.2,0.22,0.24,0.26,0.28,0.3,0.32,0.34,0.36,0.38,0.4,0.42,0.44,0.46,0.48,0.5,0.52,0.54,0.56],"labels":false,"tickSize":{"condition":{"test":"abs(datum.value*10 - round(datum.value*10)) > 0.001","value":-2},"value":-4},"title":"late","titleAngle":270,"titleX":12,"titleY":66.5,"titleFontSize":12.5}}}}
],
"resolve":{"axis":{"x":"independent","y":"independent"}}}
]
}
